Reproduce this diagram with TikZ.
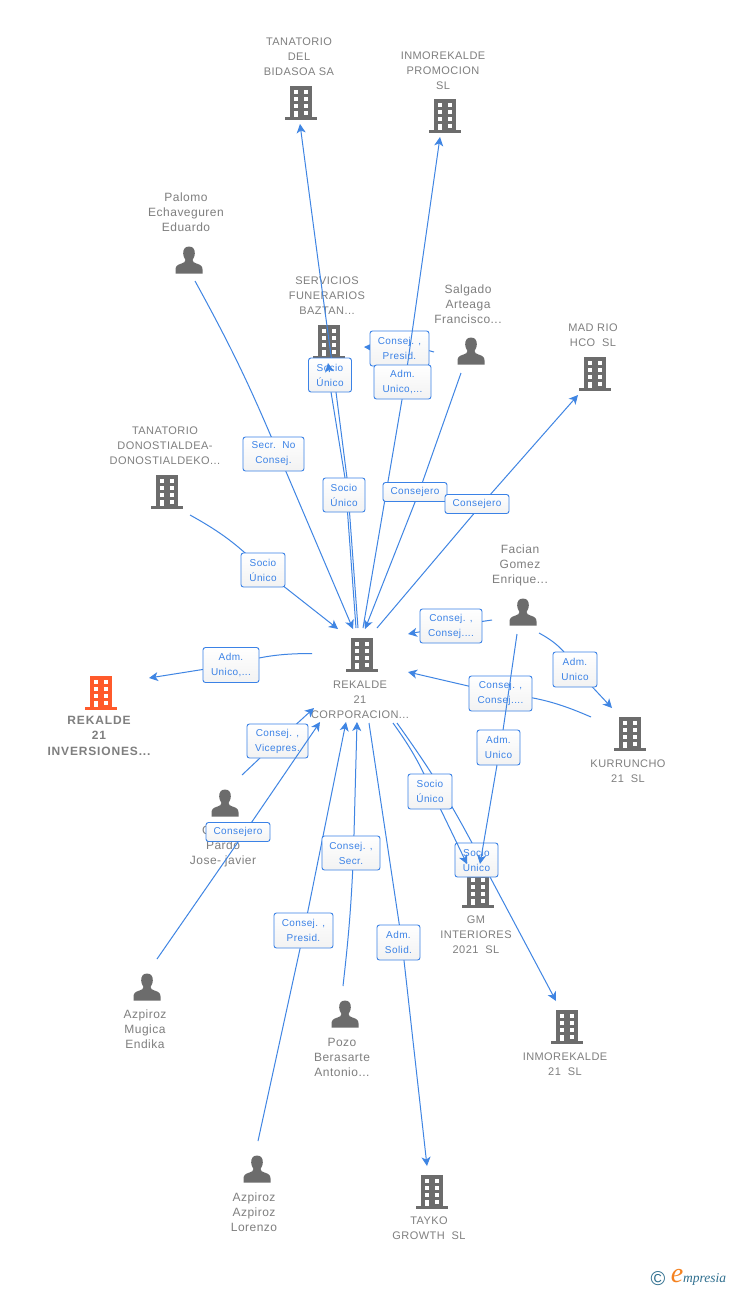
\documentclass[tikz,border=0pt]{standalone}
\usepackage{fontspec}
\usetikzlibrary{arrows.meta,shadings,calc}
\setmainfont{Liberation Sans}
\newfontfamily\spfont[LetterSpace=4]{Liberation Sans}
\newfontfamily\boldsp[LetterSpace=7]{Liberation Sans Bold}
\newfontfamily\logofont{Liberation Serif}
\definecolor{iconG}{HTML}{6C6C6C}
\definecolor{txtG}{HTML}{7F7F7F}
\definecolor{edgeB}{HTML}{3F85E3}
\definecolor{labB}{HTML}{3B82E6}
\definecolor{hotO}{HTML}{FF5A2B}
\definecolor{logoT}{HTML}{2F6F8F}
\definecolor{logoO}{HTML}{F58220}
\tikzset{
  edgeLine/.style={draw=edgeB,line width=1pt},
  tipLine/.style={draw=edgeB,line width=1pt,-{Stealth[length=9pt,width=9pt,inset=2.5pt]}},
  labBox/.style={draw=labB,line width=0.9pt,rounded corners=2.5pt,top color=white,bottom color=white!95!black,
    text=labB,align=center,font=\spfont\fontsize{10}{15}\selectfont,inner sep=0pt},
  upperTxt/.style={text=txtG,align=center,font=\spfont\fontsize{11}{15}\selectfont,inner sep=0pt,yshift=-1pt},
  nameTxt/.style={text=txtG,align=center,font=\spfont\fontsize{12}{15}\selectfont,inner sep=0pt},
  hotTxt/.style={text=txtG,align=center,font=\boldsp\fontsize{12}{15.5}\selectfont,inner sep=0pt},
  pics/bldg/.style={code={
    \fill[#1] (-16,14.5) rectangle (16,17.5);
    \fill[#1] (-11,-16.5) rectangle (11,16);
    \foreach \yy in {-12.5,-5.5,1.5}{
      \fill[white] (-7.5,\yy) rectangle (-2.8,\yy+4.4);
      \fill[white] (2.5,\yy) rectangle (7.3,\yy+4.4);}
    \fill[white] (2.5,8.5) rectangle (7.3,12.9);
    \fill[white] (-7.5,8.5) rectangle (-2.8,14.6);
  }},
  pics/bldg/.default=iconG,
  pics/person/.style={code={
    \fill[iconG] (0,-13.5) .. controls (4.5,-13.5) and (6,-10) .. (5.8,-6.5)
      .. controls (5.6,-3) and (4.2,-1.5) .. (3.6,0) .. controls (3.6,2) and (5,2.7) .. (7.5,3.5)
      .. controls (11.5,4.8) and (13.5,6) .. (13.5,9.5) -- (13.5,13.5) -- (-13.5,13.5) -- (-13.5,9.5)
      .. controls (-13.5,6) and (-11.5,4.8) .. (-7.5,3.5) .. controls (-5,2.7) and (-3.6,2) .. (-3.6,0)
      .. controls (-4.2,-1.5) and (-5.6,-3) .. (-5.8,-6.5) .. controls (-6,-10) and (-4.5,-13.5) .. (0,-13.5) -- cycle;
  }},
}
\begin{document}
\begin{tikzpicture}[x=1pt,y=-1pt]
\useasboundingbox (0,0) rectangle (728,1290);
\fill[white] (0,0) rectangle (728,1290);

% icons
\pic (iTanB) at (301,102) {bldg};
\pic (iInmoP) at (445,115) {bldg};
\pic (iServ) at (329,341) {bldg};
\pic (iMad) at (595,373) {bldg};
\pic (iTanD) at (167,491) {bldg};
\pic (iRek) at (362,654) {bldg};
\pic (iInv) at (101,692) {bldg=hotO};
\pic (iKur) at (630,733) {bldg};
\pic (iGM) at (478,890) {bldg};
\pic (iInm21) at (567,1026) {bldg};
\pic (iTay) at (432,1191) {bldg};
\pic (pPal) at (189,260) {person};
\pic (pSal) at (471,351) {person};
\pic (pFac) at (523,612) {person};
\pic (pOsc) at (225,803) {person};
\pic (pMug) at (147,987) {person};
\pic (pPoz) at (345,1014) {person};
\pic (pLor) at (257,1169) {person};

% captions
\node[upperTxt] (tTanB) at (299,56) {TANATORIO\\DEL\\BIDASOA SA};
\node[upperTxt] (tInmoP) at (443,69.5) {INMOREKALDE\\PROMOCION\\SL};
\node[nameTxt] (tPal) at (186,212) {Palomo\\Echaveguren\\Eduardo};
\node[upperTxt] (tServ) at (327,295) {SERVICIOS\\FUNERARIOS\\BAZTAN...};
\node[nameTxt] (tSal) at (468,304) {Salgado\\Arteaga\\Francisco...};
\node[upperTxt] (tMad) at (593,334.5) {MAD RIO\\HCO\ \ SL};
\node[upperTxt] (tTanD) at (165,445) {TANATORIO\\DONOSTIALDEA-\\DONOSTIALDEKO...};
\node[nameTxt] (tFac) at (520,565.5) {Facian\\Gomez\\Enrique...};
\node[upperTxt] (tRek) at (360,699) {REKALDE\\21\\CORPORACION...};
\node[hotTxt] (tInv) at (99,735.5) {REKALDE\\21\\INVERSIONES...};
\node[upperTxt] (tKur) at (628,770.5) {KURRUNCHO\\21\ \ SL};
\node[upperTxt] (tGM) at (476,934) {GM\\INTERIORES\\2021\ \ SL};
\node[upperTxt] (tInm21) at (565,1063.5) {INMOREKALDE\\21\ \ SL};
\node[nameTxt] (tMug) at (145,1029) {Azpiroz\\Mugica\\Endika};
\node[nameTxt] (tPoz) at (342,1057) {Pozo\\Berasarte\\Antonio...};
\node[nameTxt] (tLor) at (254,1212) {Azpiroz\\Azpiroz\\Lorenzo};
\node[upperTxt] (tTay) at (429,1227.5) {TAYKO\\GROWTH\ \ SL};
\node[nameTxt,anchor=west] (tOscA) at (202,830) {C};
\node[nameTxt] (tOscB) at (223,853.5) {Pardo\\Jose- javier};

% connector ends and way-points
\coordinate (ePal) at (195,281);
\coordinate (mPal) at (278.5,454);
\coordinate (aPal) at (353,629);
\coordinate (sTan) at (358,628);
\coordinate (mTanA) at (347,478);
\coordinate (mTanB) at (336,392);
\coordinate (mTanC) at (318,260);
\coordinate (aTan) at (300,124);
\coordinate (sSer) at (356,628);
\coordinate (mSerA) at (345,478);
\coordinate (mSerB) at (331,392);
\coordinate (aSer) at (328,363);
\coordinate (bSer) at (329.5,372);
\coordinate (eTanD) at (190,515);
\coordinate (mTanD) at (263,570);
\coordinate (aTanD) at (338,629);
\coordinate (eSalA) at (434,352);
\coordinate (mSalA) at (399.5,348.5);
\coordinate (aSalA) at (364,347);
\coordinate (sInmo) at (363,628);
\coordinate (mInmo) at (405,382);
\coordinate (aInmo) at (440,137);
\coordinate (eSalB) at (461,373);
\coordinate (mSalB) at (419,492);
\coordinate (aSalB) at (365,629);
\coordinate (sMad) at (377,628);
\coordinate (mMad) at (482,504);
\coordinate (aMad) at (578,395);
\coordinate (sInv) at (312,653.5);
\coordinate (mInv) at (231,665);
\coordinate (aInv) at (149,678);
\coordinate (eFacA) at (492,620);
\coordinate (mFacA) at (451,626);
\coordinate (aFacA) at (408,634);
\coordinate (eKurA) at (591,717);
\coordinate (mKurA) at (500.5,693.5);
\coordinate (aKurA) at (408,672);
\coordinate (eFacB) at (539,633);
\coordinate (mFacB) at (576,669.5);
\coordinate (aFacB) at (612,708);
\coordinate (eFacC) at (517,634);
\coordinate (mFacC) at (500.5,747.5);
\coordinate (bFacC) at (497,765);
\coordinate (aFacC) at (480,864);
\coordinate (eOsc) at (242,775);
\coordinate (mOsc) at (278,741);
\coordinate (aOsc) at (314,708);
\coordinate (eMug) at (157,959);
\coordinate (mMug) at (245,832);
\coordinate (aMug) at (320,722);
\coordinate (eLor) at (258,1141);
\coordinate (mLor) at (304,930.5);
\coordinate (aLor) at (346,722);
\coordinate (ePoz) at (343,986);
\coordinate (mPoz) at (353.5,853);
\coordinate (aPoz) at (357,722);
\coordinate (sTay) at (369,723);
\coordinate (mTay) at (402,942.5);
\coordinate (aTay) at (427,1166);
\coordinate (sInm) at (397,723);
\coordinate (mInm) at (481,860);
\coordinate (aInm) at (556,1001);
\coordinate (sGM) at (393,723);
\coordinate (mGM) at (432,791.5);
\coordinate (aGM) at (467,864);
% label centres
\coordinate (cPal) at (273.5,454);
\coordinate (cTan) at (344,495);
\coordinate (cSer) at (330,375);
\coordinate (cInmo) at (402.5,382);
\coordinate (cSalB) at (415,492);
\coordinate (cMad) at (477,504);
\coordinate (cFacB) at (575,669.5);
\coordinate (cFacC) at (498.5,747.5);
\coordinate (cOsc) at (277.5,741);
\coordinate (cMug) at (238,832);
\coordinate (cLor) at (303.5,930.5);
\coordinate (cPoz) at (351,853);
\coordinate (cTay) at (398.5,942.5);
\coordinate (cInm) at (476.5,860);
\coordinate (cGM) at (430,791.5);

% connectors and their labels, in stacking order
\draw[tipLine] (sTan) -- (mTanA) -- (mTanB) -- (mTanC) -- (aTan);
\draw[edgeLine] (sSer) -- (mSerA) -- (mSerB) -- (cSer);
\node[labBox,minimum width=43pt,minimum height=34pt] (nSer) at (cSer) {Socio\\Único};
\draw[tipLine] (bSer) -- (aSer);
\node[labBox,minimum width=42pt,minimum height=34pt] (nTan) at (cTan) {Socio\\Único};

\draw[edgeLine] (ePal) to[bend left=3] (mPal);
\draw[tipLine] (mPal) -- (aPal);
\node[labBox,minimum width=61pt,minimum height=34pt] (nPal) at (cPal) {Secr.\ \ No\\Consej.};

\draw[edgeLine] (eTanD) to[bend left=8] (mTanD);
\draw[tipLine] (mTanD) -- (aTanD);
\node[labBox,minimum width=44pt,minimum height=34pt] (nTanD) at (mTanD) {Socio\\Único};

\draw[edgeLine] (eSalA) to[bend right=10] (mSalA);
\draw[tipLine] (mSalA) -- (aSalA);
\node[labBox,minimum width=59pt,minimum height=35pt] (nSalA) at (mSalA) {Consej. ,\\Presid.};

\draw[tipLine] (sInmo) -- (mInmo) -- (aInmo);
\node[labBox,minimum width=57pt,minimum height=34pt] (nInmo) at (cInmo) {Adm.\\Unico,...};

\draw[tipLine] (eSalB) -- (mSalB) -- (aSalB);
\node[labBox,minimum width=64pt,minimum height=19pt] (nSalB) at (cSalB) {Consejero};

\draw[tipLine] (sMad) -- (mMad) -- (aMad);
\node[labBox,minimum width=64pt,minimum height=19pt] (nMad) at (cMad) {Consejero};

\draw[edgeLine] (sInv) to[bend right=8] (mInv);
\draw[tipLine] (mInv) -- (aInv);
\node[labBox,minimum width=56pt,minimum height=35pt] (nInv) at (mInv) {Adm.\\Unico,...};

\draw[tipLine] (eFacA) -- (mFacA) -- (aFacA);
\node[labBox,minimum width=62pt,minimum height=34pt] (nFacA) at (mFacA) {Consej. ,\\Consej....};

\draw[edgeLine] (eKurA) to[bend right=9] (mKurA);
\draw[tipLine] (mKurA) -- (aKurA);
\node[labBox,minimum width=63pt,minimum height=35pt] (nKurA) at (mKurA) {Consej. ,\\Consej....};

\draw[edgeLine] (eFacB) to[bend left=16] (mFacB);
\draw[tipLine] (mFacB) -- (aFacB);
\node[labBox,minimum width=44pt,minimum height=35pt] (nFacB) at (cFacB) {Adm.\\Unico};

\draw[tipLine] (eOsc) -- (mOsc) -- (aOsc);
\node[labBox,minimum width=61pt,minimum height=34pt] (nOsc) at (cOsc) {Consej. ,\\Vicepres.};

\draw[tipLine] (eMug) -- (mMug) -- (aMug);
\node[labBox,minimum width=64pt,minimum height=19pt] (nMug) at (cMug) {Consejero};

\draw[tipLine] (eLor) -- (mLor) -- (aLor);
\node[labBox,minimum width=59pt,minimum height=35pt] (nLor) at (cLor) {Consej. ,\\Presid.};

\draw[edgeLine] (ePoz) to[bend right=2] (mPoz);
\draw[tipLine] (mPoz) -- (aPoz);
\node[labBox,minimum width=58pt,minimum height=34pt] (nPoz) at (cPoz) {Consej. ,\\Secr.};

\draw[tipLine] (sTay) -- (mTay) -- (aTay);
\node[labBox,minimum width=43pt,minimum height=35pt] (nTay) at (cTay) {Adm.\\Solid.};

\draw[edgeLine] (sInm) to[bend left=4] (mInm);
\draw[tipLine] (mInm) -- (aInm);
\node[labBox,minimum width=43pt,minimum height=34pt] (nInm) at (cInm) {Socio\\Único};

\draw[edgeLine] (sGM) to[bend left=6] (mGM);
\draw[tipLine] (mGM) -- (aGM);
\node[labBox,minimum width=44pt,minimum height=35pt] (nGM) at (cGM) {Socio\\Único};

\draw[edgeLine] (eFacC) -- (mFacC);
\node[labBox,minimum width=43pt,minimum height=35pt] (nFacC) at (cFacC) {Adm.\\Unico};
\draw[tipLine] (bFacC) -- (aFacC);

% logo
\node[text=logoT,inner sep=0pt,font=\fontsize{20}{20}\selectfont] (lC) at (658,1278.5) {©};
\node[text=logoO,inner sep=0pt,font=\logofont\itshape\fontsize{28}{28}\selectfont] (lE) at (677,1276) {e};
\node[text=logoT,inner sep=0pt,anchor=west,font=\logofont\itshape\fontsize{13.5}{14}\selectfont] (lM) at (683,1279.5) {mpresia};
\end{tikzpicture}
\end{document}
